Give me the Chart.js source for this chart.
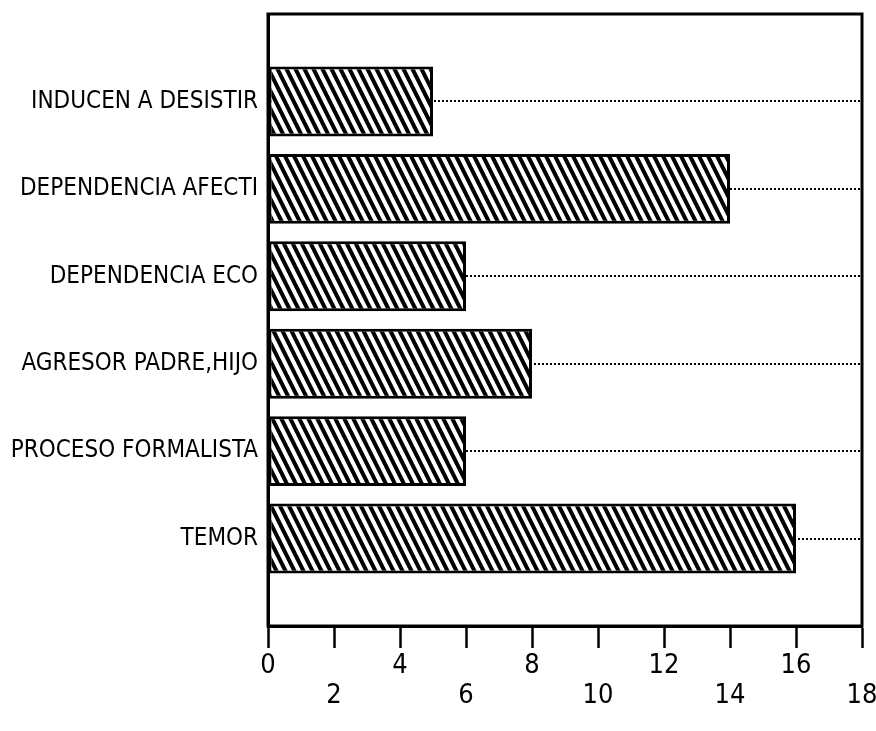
<!DOCTYPE html>
<html>
<head>
<meta charset="utf-8">
<script src="https://cdn.jsdelivr.net/npm/chart.js@4/dist/chart.umd.min.js"></script>
<style>
html,body{margin:0;padding:0;background:#fff;}
#wrap{width:876px;height:731px;}
</style>
</head>
<body>
<div id="wrap"><canvas id="c" width="876" height="731"></canvas></div>
<script>
// Categories (top to bottom); empty slots pad the frame above and below
const categories = ['', 'INDUCEN A DESISTIR', 'DEPENDENCIA AFECTI', 'DEPENDENCIA ECO', 'AGRESOR PADRE,HIJO', 'PROCESO FORMALISTA', 'TEMOR', ''];
const values = [null, 5, 14, 6, 8, 6, 16, null];
const xMin = 0, xMax = 18, xStep = 2;

const FONT = '"Liberation Sans Narrow", "DejaVu Sans Condensed", "Arial Narrow", sans-serif';

function makeHatch() {
  const w = 9, h = 18;
  const c = document.createElement('canvas');
  c.width = w; c.height = h;
  const g = c.getContext('2d');
  g.fillStyle = '#fff'; g.fillRect(0, 0, w, h);
  g.strokeStyle = '#000'; g.lineWidth = 4;
  for (const dx of [-w, 0, w]) {
    g.beginPath(); g.moveTo(dx - 2, -4); g.lineTo(dx + w + 2, h + 4); g.stroke();
  }
  return g.createPattern(c, 'repeat');
}

const framePlugin = {
  id: 'frame',
  afterDatasetsDraw(chart) {
    const {ctx, chartArea: a} = chart;
    ctx.save();
    ctx.strokeStyle = '#000'; ctx.lineWidth = 3;
    ctx.strokeRect(a.left, a.top, a.right - a.left, a.bottom - a.top);
    ctx.restore();
  }
};

new Chart(document.getElementById('c'), {
  type: 'bar',
  data: {
    labels: categories,
    datasets: [{
      data: values,
      backgroundColor: makeHatch(),
      borderColor: '#000',
      borderWidth: 3,
      borderSkipped: false,
      categoryPercentage: 0.8,
      barPercentage: 1.0
    }]
  },
  options: {
    indexAxis: 'y',
    responsive: false,
    animation: false,
    devicePixelRatio: 1,
    layout: {padding: {top: 14, right: 14, left: 0, bottom: 0}},
    plugins: {legend: {display: false}, tooltip: {enabled: false}},
    scales: {
      y: {
        type: 'category',
        offset: false,
        grid: {
          offset: false,
          drawTicks: false,
          color: (ctx) => (ctx.index > 0 && ctx.index < categories.length - 1) ? '#000' : 'rgba(0,0,0,0)',
          lineWidth: 2
        },
        border: {display: true, color: '#000', width: 3, dash: [2, 2]},
        ticks: {
          color: '#000',
          padding: 10,
          font: {family: FONT, size: 24},
          autoSkip: false
        },
        afterFit: (s) => { s.width = 268; s.paddingTop = 0; s.paddingBottom = 0; }
      },
      x: {
        min: xMin, max: xMax,
        grid: {
          drawOnChartArea: false,
          drawTicks: true,
          tickLength: 22,
          tickColor: '#000',
          tickWidth: 2.5
        },
        border: {display: true, color: '#000', width: 3},
        ticks: {
          stepSize: xStep,
          color: '#000',
          padding: 3,
          font: {family: FONT, size: 27, lineHeight: 1.1},
          maxRotation: 0,
          autoSkip: false,
          callback: (v, i) => (i % 2 === 0 ? [String(v), ''] : ['', String(v)])
        },
        afterFit: (s) => { s.height = 105; s.paddingLeft = 0; s.paddingRight = 0; }
      }
    }
  },
  plugins: [framePlugin]
});
</script>
</body>
</html>
